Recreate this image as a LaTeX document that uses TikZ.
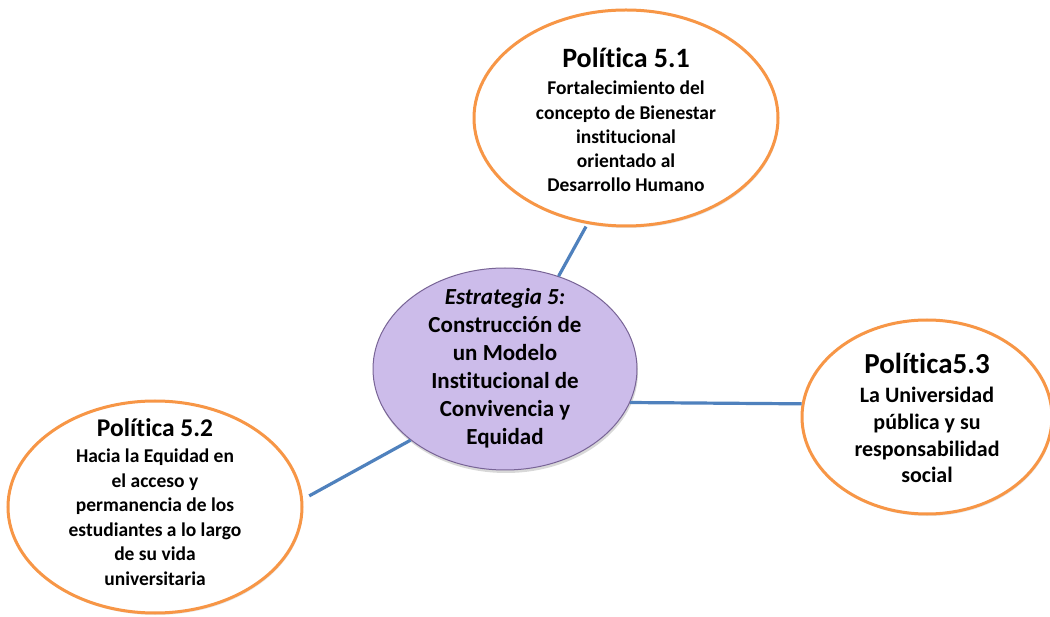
\documentclass[tikz,border=0pt]{standalone}
\usepackage{fontspec}
\setmainfont{Carlito}[Ligatures={NoCommon}]
\usetikzlibrary{shapes.geometric,shadows}
\definecolor{polorange}{RGB}{247,150,70}
\definecolor{linkblue}{RGB}{79,129,189}
\definecolor{lavfill}{RGB}{204,188,234}
\definecolor{lavdraw}{RGB}{120,100,150}
\tikzset{
  policy/.style={ellipse, draw=polorange, line width=3pt, fill=white,
    drop shadow={opacity=0.18, shadow xshift=1pt, shadow yshift=-2pt}},
  core/.style={ellipse, draw=lavdraw, line width=1pt, fill=lavfill,
    drop shadow={opacity=0.3, shadow xshift=1pt, shadow yshift=-3pt}},
  txt/.style={align=center, inner sep=0pt},
  link/.style={draw=linkblue, line width=3.2pt}
}
\begin{document}
\begin{tikzpicture}[x=1pt,y=1pt]
\useasboundingbox (0,0) rectangle (1050,-617);
\fill[white] (0,0) rectangle (1050,-617);
% ellipses
\node[policy, minimum width=304, minimum height=216] (p1) at (626,-118) {};
\node[policy, minimum width=294, minimum height=212] (p2) at (155,-507) {};
\node[policy, minimum width=250, minimum height=194] (p3) at (927,-417) {};
\node[core, minimum width=264, minimum height=202] (c) at (505,-369) {};
% connectors
\draw[link, shorten >=3pt] (c.60) -- (p1.250.8);
\draw[link] (c.-15) -- (p3.174);
\draw[link, shorten >=7pt] (c.217.5) -- (p2.3.5);
% texts
\node[txt, font=\bfseries\fontsize{19.5}{24.2}\selectfont] (t1) at (626,-120)
  {{\fontsize{28}{30}\selectfont Política 5.1}\\[3pt]
   Fortalecimiento del\\ concepto de Bienestar\\ institucional\\ orientado al\\ Desarrollo Humano};
\node[txt, font=\bfseries\fontsize{19.5}{24.5}\selectfont] (t2) at (155,-502)
  {{\fontsize{25.5}{27}\selectfont Política 5.2}\\[2pt]
   Hacia la Equidad en\\ el acceso y\\ permanencia de los\\ estudiantes a lo largo\\ de su vida\\ universitaria};
\node[txt, font=\bfseries\fontsize{22}{26.6}\selectfont] (t3) at (927,-418)
  {{\fontsize{29}{31}\selectfont Política5.3}\\[3pt]
   La Universidad\\ pública y su\\ responsabilidad\\ social};
\node[txt, font=\bfseries\fontsize{23}{28}\selectfont] (tc) at (505,-368)
  {\textit{Estrategia 5:}\\ Construcción de\\ un Modelo\\ Institucional de\\ Convivencia y\\ Equidad};
\end{tikzpicture}
\end{document}
